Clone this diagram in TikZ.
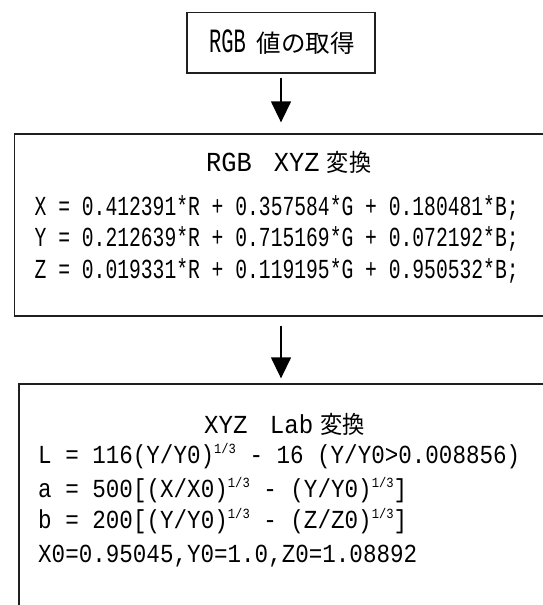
\documentclass[tikz,border=0pt]{standalone}
\usepackage{fontspec}
\usepackage{graphicx}
\setmainfont{Liberation Mono}
\newfontfamily\jpfont{Noto Sans CJK JP}
\usetikzlibrary{arrows.meta}
\newlength\fitlen
\newcommand\fitto[2]{\settowidth\fitlen{#2}\pgfmathsetmacro\fitfac{#1/\fitlen}\scalebox{\fitfac}[1]{#2}}
\newcommand\cubert{\raisebox{0.38em}{\fontsize{14}{14}\selectfont 1/3}}
\begin{document}
\begin{tikzpicture}[x=1pt,y=-1pt,
  box/.style={draw=black!88, line width=1.3pt, inner sep=0pt},
  txt/.style={anchor=base west, inner sep=0pt, text=black},
  flow/.style={draw=black, line width=1.4pt, -{Triangle[length=21pt,width=20pt]}},
  fA/.style={font=\fontsize{27.5}{28}\selectfont},
  fB/.style={font=\fontsize{26}{27}\selectfont}]
\useasboundingbox (0,0) rectangle (543,605);
\fill[white] (0,0) rectangle (543,605);
\clip (0,0) rectangle (543,605);
% boxes
\node[box, minimum width=188pt, minimum height=60.5pt] (b1) at (281,42.75) {};
\node[box, minimum width=565.5pt, minimum height=182pt] (b2) at (297.25,225) {};
\node[box, minimum width=561pt, minimum height=256pt] (b3) at (299.5,512) {};
% box 1 text
\node[txt] (t1) at (209,52.5) {{\fontsize{34}{34}\selectfont\scalebox{0.6}[1]{RGB}}\hspace{11pt}{\jpfont\fontsize{24.5}{26}\selectfont 値の取得}};
% box 2 text
\node[txt, fA] (t2) at (206,171) {\fitto{165pt}{RGB\hspace{24pt}XYZ\hspace{8pt}{\jpfont\fontsize{24}{26}\selectfont 変換}}};
\node[txt, fA] (x2) at (34.5,215) {\fitto{484pt}{X = 0.412391*R + 0.357584*G + 0.180481*B;}};
\node[txt, fA] (y2) at (34.5,246.5) {\fitto{484pt}{Y = 0.212639*R + 0.715169*G + 0.072192*B;}};
\node[txt, fA] (z2) at (34.5,278) {\fitto{484pt}{Z = 0.019331*R + 0.119195*G + 0.950532*B;}};
% box 3 text
\node[txt, fB] (t3) at (204,433) {\fitto{161pt}{XYZ\hspace{24pt}Lab\hspace{8pt}{\jpfont\fontsize{24}{26}\selectfont 変換}}};
\node[txt, fB] (l3) at (38,463.5) {\fitto{482pt}{L = 116(Y/Y0)\cubert{} - 16 (Y/Y0>0.008856)}};
\node[txt, fB] (a3) at (38,497) {\fitto{369pt}{a = 500[(X/X0)\cubert{} - (Y/Y0)\cubert]}};
\node[txt, fB] (bb3) at (38,528.5) {\fitto{369pt}{b = 200[(Y/Y0)\cubert{} - (Z/Z0)\cubert]}};
\node[txt, fB] (w3) at (38,562) {\fitto{379pt}{X0=0.95045,Y0=1.0,Z0=1.08892}};
% arrows
\draw[flow, shorten <=4pt, shorten >=11pt] (b1.south) -- (b1.south |- b2.north);
\draw[flow, shorten <=9pt, shorten >=5pt] (b1.south |- b2.south) -- (b1.south |- b3.north);
\end{tikzpicture}
\end{document}
